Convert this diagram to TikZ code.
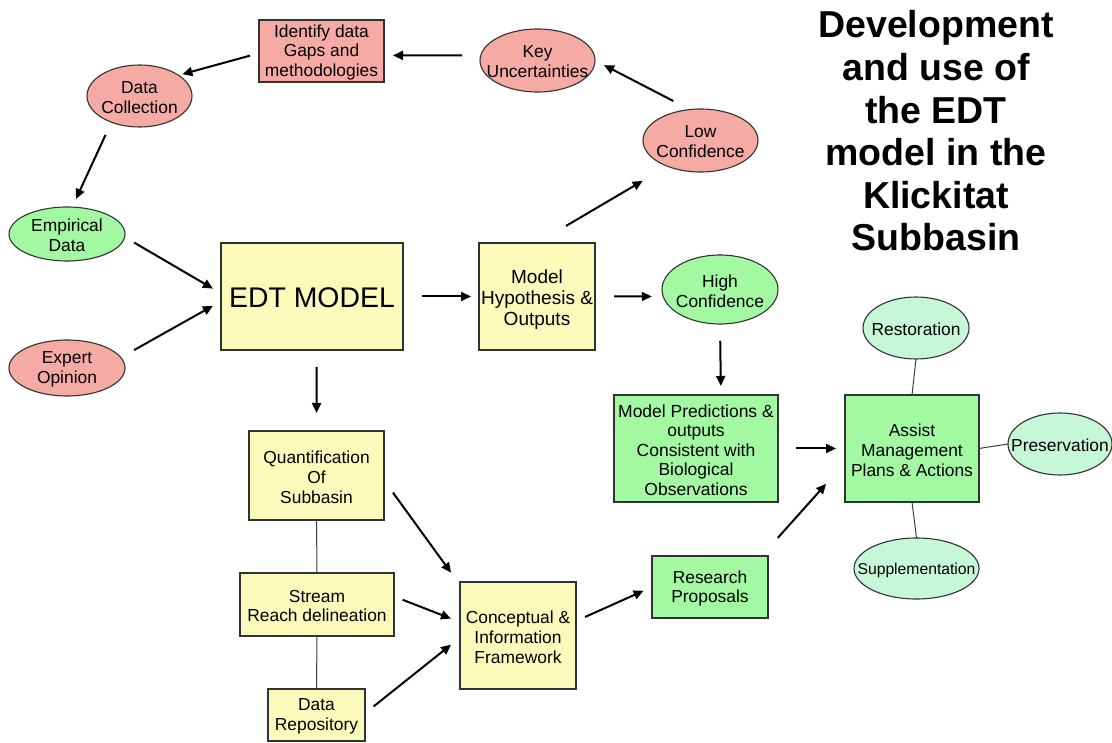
\documentclass[tikz,border=0pt]{standalone}
\usepackage{fontspec}
\setmainfont{Liberation Sans}
\usetikzlibrary{shapes.geometric,arrows.meta}
\definecolor{salmon}{RGB}{245,170,164}
\definecolor{mgreen}{RGB}{162,249,162}
\definecolor{lgreen}{RGB}{198,248,216}
\definecolor{pyellow}{RGB}{250,250,187}
\definecolor{bordc}{RGB}{50,50,50}
\definecolor{linec}{RGB}{60,60,60}
\newcommand\fsN{\fontsize{17.4}{19.8}\selectfont}
\begin{document}
\begin{tikzpicture}[x=1pt,y=-1pt,
  box/.style={rectangle,draw=bordc,line width=1.1pt,inner sep=0pt,outer sep=0pt},
  ell/.style={ellipse,draw=bordc,line width=1.1pt,inner sep=0pt,outer sep=0pt},
  lbl/.style={align=center,font=\fsN,inner sep=0pt,yshift=-1.5pt},
  arr/.style={line width=2pt,-{Triangle[length=10pt,width=9pt]}},
  ln/.style={draw=linec,line width=1pt}]
\useasboundingbox[fill=white] (0,0) rectangle (1112,743);

% title
\node[align=center,font=\bfseries\fontsize{37.5}{42.6}\selectfont,inner sep=0pt] (title) at (936,131)
  {Development\\and use of\\the EDT\\model in the\\Klickitat\\Subbasin};

% top loop
\node[box,fill=salmon,minimum width=125pt,minimum height=62pt,label={[lbl]center:Identify data\\Gaps and\\methodologies}] (idg) at (321.5,51) {};
\node[ell,fill=salmon,minimum width=105pt,minimum height=62pt,label={[lbl]center:Data\\Collection}] (dc) at (139.5,96) {};
\node[ell,fill=mgreen,minimum width=116pt,minimum height=54pt,label={[lbl]center:Empirical\\Data}] (emp) at (67,234) {};
\node[ell,fill=salmon,minimum width=116pt,minimum height=56pt,label={[lbl]center:Expert\\Opinion}] (exp) at (67,368) {};
\node[ell,fill=salmon,minimum width=115pt,minimum height=63pt,label={[lbl]center:Key\\Uncertainties}] (ku) at (537.5,60.5) {};
\node[ell,fill=salmon,minimum width=115pt,minimum height=63pt,label={[lbl]center:Low\\Confidence}] (lc) at (700.5,140.5) {};

% middle
\node[box,fill=pyellow,minimum width=182pt,minimum height=107pt,label={[lbl,font=\fontsize{28.4}{32}\selectfont]center:EDT MODEL}] (edt) at (312,296.5) {};
\node[box,fill=pyellow,minimum width=116pt,minimum height=107pt,label={[lbl,yshift=-2pt,font=\fontsize{19}{21}\selectfont]center:Model\\Hypothesis \&\\Outputs}] (mh) at (537,296.5) {};
\node[ell,fill=mgreen,minimum width=116pt,minimum height=69pt,label={[lbl]center:High\\Confidence}] (hc) at (720,289.5) {};

% right
\node[ell,fill=lgreen,minimum width=106pt,minimum height=62pt,label={[lbl]center:Restoration}] (rest) at (916,328) {};
\node[ell,fill=lgreen,minimum width=104pt,minimum height=62pt,label={[lbl]center:Preservation}] (pres) at (1060,444) {};
\node[ell,fill=lgreen,minimum width=125pt,minimum height=61pt,label={[lbl,font=\fontsize{15.7}{18}\selectfont]center:Supplementation}] (supp) at (916.5,568.5) {};
\node[box,fill=mgreen,minimum width=164pt,minimum height=107pt,label={[lbl,font=\fontsize{17.5}{19.4}\selectfont]center:Model Predictions \&\\outputs\\Consistent with\\Biological\\Observations}] (mp) at (696,448.5) {};
\node[box,fill=mgreen,minimum width=134pt,minimum height=107pt,label={[lbl,font=\fontsize{17.4}{20}\selectfont]center:Assist\\Management\\Plans \& Actions}] (am) at (912,448.5) {};

% bottom
\node[box,fill=pyellow,minimum width=135pt,minimum height=89pt,label={[lbl,font=\fontsize{17.4}{20}\selectfont]center:Quantification\\Of\\Subbasin}] (quant) at (316.5,475.5) {};
\node[box,fill=pyellow,minimum width=154pt,minimum height=63pt,label={[lbl]center:Stream\\Reach delineation}] (stream) at (317,604.5) {};
\node[box,fill=pyellow,minimum width=97pt,minimum height=52pt,label={[lbl]center:Data\\Repository}] (dr) at (316.5,715) {};
\node[box,fill=pyellow,minimum width=116pt,minimum height=107pt,label={[lbl]center:Conceptual \&\\Information\\Framework}] (conc) at (518,635.5) {};
\node[box,fill=mgreen,minimum width=116pt,minimum height=62pt,label={[lbl]center:Research\\Proposals}] (rp) at (710,587) {};

% arrows
\draw[arr,shorten <=18.6pt,shorten >=9pt] (ku.175.5) -- (idg.-4.6);
\draw[arr,shorten <=9.3pt,shorten >=4pt] (idg.182.4) -- (dc.28.5);
\draw[arr,shorten <=14pt,shorten >=9pt] (dc.223.6) -- (emp.79.1);
\draw[arr,shorten <=11pt,shorten >=9.3pt] (emp.-3.4) -- (edt.178.2);
\draw[arr,shorten <=15.2pt,shorten >=9.2pt] (exp.11.2) -- (edt.183.1);
\draw[arr,shorten <=19pt,shorten >=8pt] (edt.east) -- (mh.west);
\draw[arr,shorten <=19pt,shorten >=11.4pt] (mh.east) -- (hc.187.5);
\draw[arr,shorten <=33.7pt,shorten >=28.8pt] (mh.north) -- (lc.218.5);
\draw[arr,shorten <=18.6pt,shorten >=10.1pt] (lc.109.6) -- (ku.0.2);
\draw[arr,shorten <=17pt,shorten >=18pt] (edt.275.3) -- (quant.north);
\draw[arr,shorten <=17pt,shorten >=9pt] (hc.south) -- (mp.65.8);
\draw[arr,shorten <=18pt,shorten >=9pt] (mp.east) -- (am.west);
\draw[arr,shorten <=24.3pt,shorten >=28.3pt] (rp.31.4) -- (am.192.3);
\draw[arr,shorten <=15.3pt,shorten >=15.3pt] (quant.-4.3) -- (conc.139.2);
\draw[arr,shorten <=9.2pt,shorten >=9.7pt] (stream.6.7) -- (conc.167.6);
\draw[arr,shorten <=11pt,shorten >=11.5pt] (dr.2.5) -- (conc.182.3);
\draw[arr,shorten <=9.85pt,shorten >=9.2pt] (conc.14) -- (rp.180.3);

% plain connectors
\draw[ln] (quant.south) -- (stream.north);
\draw[ln] (stream.south) -- (dr.north);
\draw[ln] (rest.south) -- (am.north);
\draw[ln] (am.east) -- (pres.west);
\draw[ln] (am.south) -- (supp.north);
\end{tikzpicture}
\end{document}
